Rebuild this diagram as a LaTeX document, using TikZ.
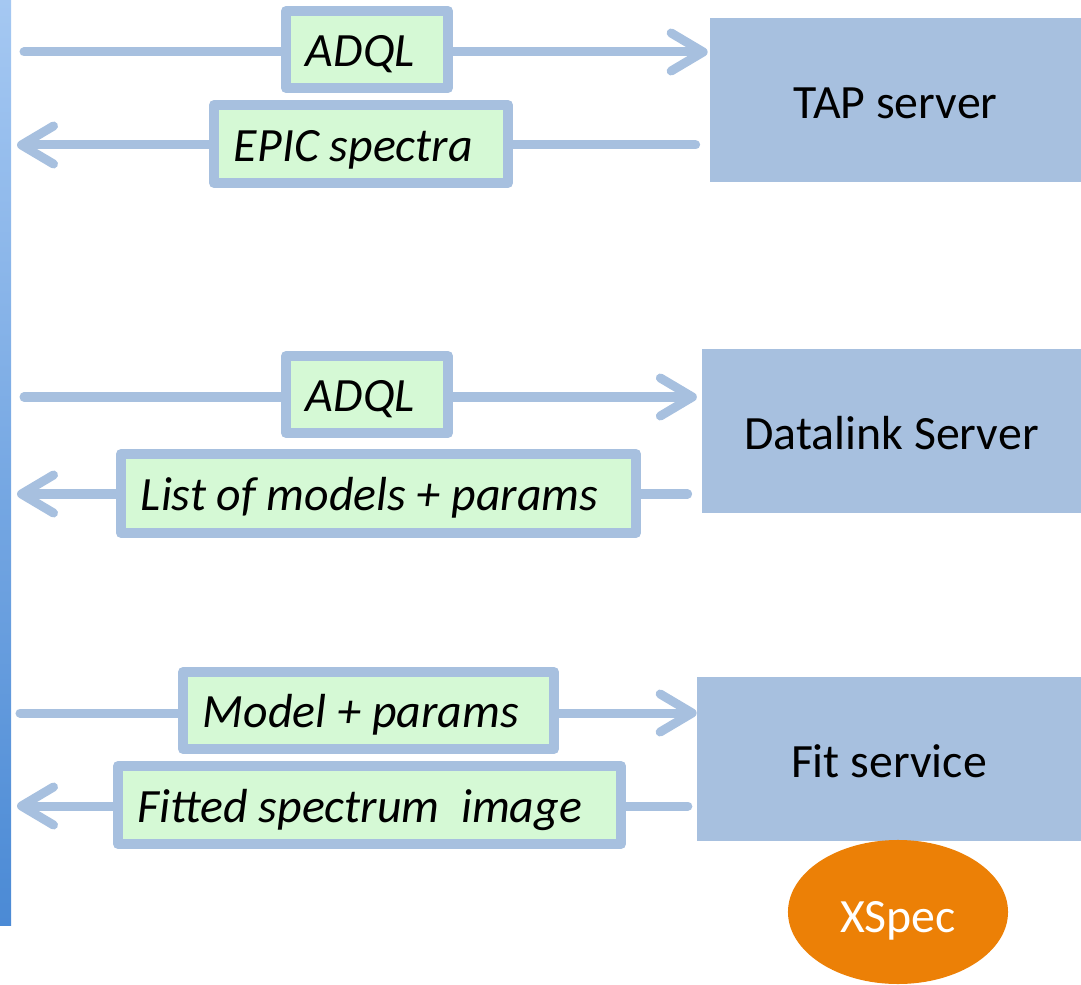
\documentclass[tikz,border=0pt]{standalone}
\usepackage{fontspec}
\setmainfont{Carlito}
\usepackage{tikz}
\usetikzlibrary{arrows.meta,shapes.geometric}

\definecolor{linkblue}{HTML}{A7C0DF}
\definecolor{msggreen}{HTML}{D5F9D5}
\definecolor{xorange}{HTML}{EC8006}
\definecolor{bartop}{HTML}{A5C8F2}
\definecolor{barbot}{HTML}{4B8AD5}

\newcommand{\msgline}[2]{\makebox[#1][l]{#2}}

\tikzset{
  server/.style={fill=linkblue, inner sep=0pt, minimum height=4.1cm,
                 text height=0.9cm, text depth=0pt,
                 font=\fontsize{34}{40}\selectfont},
  msg/.style={draw=linkblue, fill=msggreen, line width=0.25cm, line join=round,
              inner sep=0pt, text height=0.85cm, text depth=0pt,
              font=\fontsize{34}{40}\selectfont\itshape},
  flow/.style={draw=linkblue, line width=0.225cm, line cap=round,
               -{Straight Barb[length=0.8cm, width=0.95cm, round]}},
}

\begin{document}
\begin{tikzpicture}[x=0.025cm, y=-0.025cm]
\useasboundingbox (0,0) rectangle (1081,985);

\node [top color=bartop, bottom color=barbot, inner sep=0pt,
       minimum width=0.275cm, minimum height=23.125cm] (client) at (5.5,462.5) {};

\node [server, minimum width=9.275cm] (tap) at (895.5,100) {TAP server};
\node [server, minimum width=9.475cm] (datalink) at (891.5,431) {Datalink Server};
\node [server, minimum width=9.6cm] (fit) at (889,759) {Fit service};
\node [ellipse, fill=xorange, text=white, inner sep=0pt,
       minimum width=5.5cm, minimum height=3.6cm,
       text height=1cm, text depth=0pt,
       font=\fontsize{34}{40}\selectfont] (xspec) at (898,912) {XSpec};

\coordinate (q1) at (24,52);
\coordinate (a1) at (17,145);
\coordinate (q2) at (24,397);
\coordinate (a2) at (17,494);
\coordinate (q3) at (20,713);
\coordinate (a3) at (17,806);

\draw [flow, shorten >=0.05cm] (q1) -- (tap.west |- q1);
\draw [flow, shorten <=0.35cm] (tap.west |- a1) -- (a1);
\draw [flow, shorten >=0.12cm] (q2) -- (datalink.west |- q2);
\draw [flow, shorten <=0.35cm] (datalink.west |- a2) -- (a2);
\draw [flow] (q3) -- (fit.west |- q3);
\draw [flow, shorten <=0.22cm] (fit.west |- a3) -- (a3);

\node [msg, minimum width=4.05cm, minimum height=1.925cm] (adql) at (367,49.5) {\msgline{3.05cm}{ADQL}};
\node [msg, minimum width=7.35cm, minimum height=1.95cm] (epic) at (361,144) {\msgline{6.35cm}{EPIC spectra}};
\node [msg, minimum width=4.05cm, minimum height=1.925cm] (adqldl) at (367,394.5) {\msgline{3.05cm}{ADQL}};
\node [msg, minimum width=12.875cm, minimum height=1.975cm] (models) at (378.5,493.5) {\msgline{11.875cm}{List of models + params}};
\node [msg, minimum width=9.275cm, minimum height=1.925cm] (params) at (368.5,710.5) {\msgline{8.275cm}{Model + params}};
\node [msg, minimum width=12.575cm, minimum height=1.95cm] (fitted) at (369.5,805) {\msgline{11.575cm}{Fitted spectrum\ \ image}};
\end{tikzpicture}
\end{document}
